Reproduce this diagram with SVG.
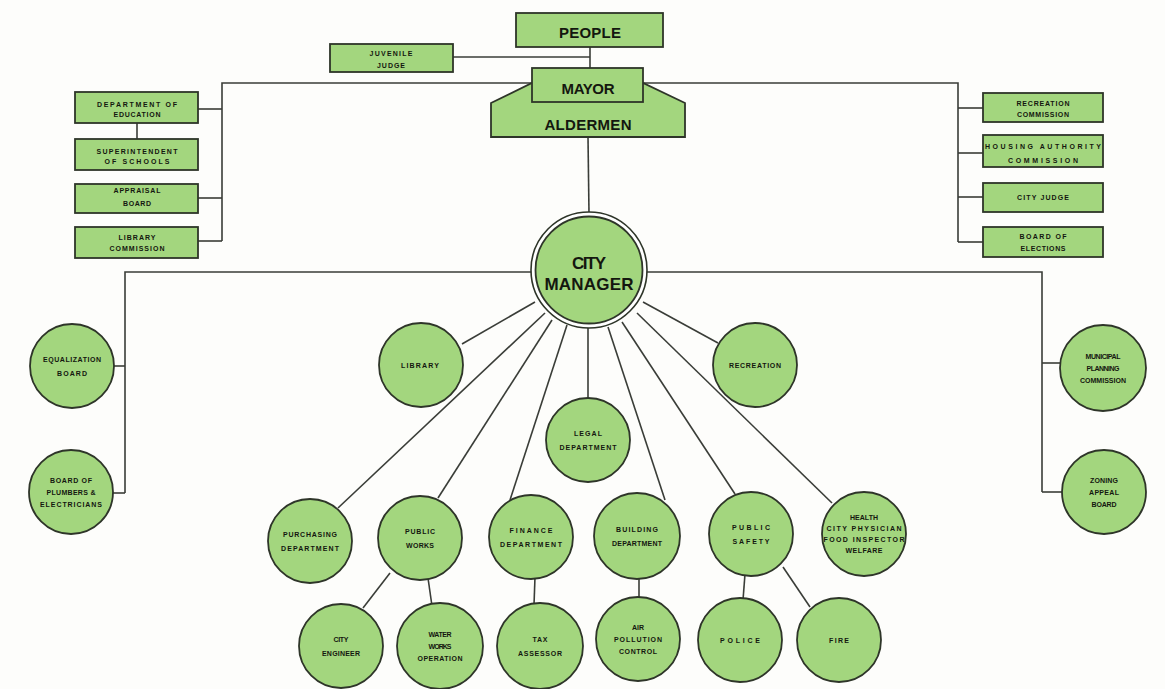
<svg xmlns="http://www.w3.org/2000/svg" width="1165" height="689" viewBox="0 0 1165 689">
<style>
.n{fill:#a3d67e;stroke:#2e3529;stroke-width:1.8}
.w{fill:#ffffff;stroke:#2e3529;stroke-width:1.6}
.ln{stroke:#3a3d38;stroke-width:1.6;fill:none}
text{font-family:"Liberation Sans",Arial,sans-serif;font-weight:bold;fill:#14170f;text-anchor:middle}
.b{font-size:15px}
.m{font-size:17px}
.s{font-size:7px}
</style>
<rect width="1165" height="689" fill="#fdfdfb"/>
<g id="connectors">
<line class="ln" x1="590" y1="47" x2="590" y2="68"/>
<line class="ln" x1="453" y1="57" x2="590" y2="57"/>
<polyline class="ln" points="222,241 222,83 958,83 958,242"/>
<line class="ln" x1="198" y1="109" x2="222" y2="109"/>
<line class="ln" x1="198" y1="198" x2="222" y2="198"/>
<line class="ln" x1="198" y1="241" x2="222" y2="241"/>
<line class="ln" x1="137" y1="123" x2="137" y2="139"/>
<line class="ln" x1="958" y1="108" x2="983" y2="108"/>
<line class="ln" x1="958" y1="153" x2="983" y2="153"/>
<line class="ln" x1="958" y1="197" x2="983" y2="197"/>
<line class="ln" x1="958" y1="242" x2="983" y2="242"/>
<line class="ln" x1="588" y1="137" x2="589" y2="214"/>
<polyline class="ln" points="125,493 125,272 1042,272 1042,492"/>
<line class="ln" x1="112" y1="366" x2="125" y2="366"/>
<line class="ln" x1="111" y1="493" x2="125" y2="493"/>
<line class="ln" x1="1042" y1="363" x2="1062" y2="363"/>
<line class="ln" x1="1042" y1="492" x2="1064" y2="492"/>
<line class="ln" x1="535" y1="302" x2="462" y2="344"/>
<line class="ln" x1="545" y1="313" x2="338" y2="508"/>
<line class="ln" x1="552" y1="320" x2="438" y2="498"/>
<line class="ln" x1="567" y1="325" x2="510" y2="500"/>
<line class="ln" x1="588" y1="328" x2="588" y2="400"/>
<line class="ln" x1="608" y1="327" x2="665" y2="500"/>
<line class="ln" x1="622" y1="322" x2="735" y2="494"/>
<line class="ln" x1="637" y1="313" x2="832" y2="503"/>
<line class="ln" x1="643" y1="302" x2="718" y2="343"/>
<line class="ln" x1="390" y1="573" x2="363" y2="608"/>
<line class="ln" x1="428" y1="578" x2="432" y2="606"/>
<line class="ln" x1="535" y1="577" x2="534" y2="605"/>
<line class="ln" x1="639" y1="577" x2="639" y2="599"/>
<line class="ln" x1="745" y1="574" x2="743" y2="600"/>
<line class="ln" x1="783" y1="567" x2="810" y2="607"/>
</g>
<g id="people"><rect class="n" x="516" y="13" width="147" height="34"/><text class="b" x="590" y="38" textLength="62">PEOPLE</text></g>
<g id="juvenile-judge"><rect class="n" x="330" y="44" width="123" height="28"/><text class="s" x="391" y="55.5" textLength="43">JUVENILE</text><text class="s" x="391" y="67.5" textLength="28">JUDGE</text></g>
<g id="aldermen"><polygon class="n" points="532,83 643,83 685,103 685,137 491,137 491,103"/><text class="b" x="588" y="130" textLength="87">ALDERMEN</text></g>
<g id="mayor"><rect class="n" x="532" y="68" width="111" height="34"/><text class="b" x="588" y="94" textLength="53">MAYOR</text></g>
<g id="dept-education"><rect class="n" x="75" y="92" width="123" height="31"/><text class="s" x="137" y="106.5" textLength="80">DEPARTMENT OF</text><text class="s" x="137" y="116.5" textLength="47">EDUCATION</text></g>
<g id="superintendent"><rect class="n" x="75" y="139" width="123" height="31"/><text class="s" x="137" y="153.5" textLength="81">SUPERINTENDENT</text><text class="s" x="137" y="163.5" textLength="65">OF SCHOOLS</text></g>
<g id="appraisal-board"><rect class="n" x="75" y="184" width="123" height="29"/><text class="s" x="137" y="192.5" textLength="47">APPRAISAL</text><text class="s" x="137" y="205.5" textLength="28">BOARD</text></g>
<g id="library-commission"><rect class="n" x="75" y="227" width="123" height="31"/><text class="s" x="137" y="239.5" textLength="37">LIBRARY</text><text class="s" x="137" y="250.5" textLength="55">COMMISSION</text></g>
<g id="recreation-commission"><rect class="n" x="983" y="93" width="120" height="29"/><text class="s" x="1043" y="105.5" textLength="53">RECREATION</text><text class="s" x="1043" y="116.5" textLength="52">COMMISSION</text></g>
<g id="housing-authority"><rect class="n" x="983" y="135" width="120" height="32"/><text class="s" x="1043" y="148.5" textLength="116">HOUSING AUTHORITY</text><text class="s" x="1043" y="162.5" textLength="70">COMMISSION</text></g>
<g id="city-judge"><rect class="n" x="983" y="183" width="120" height="29"/><text class="s" x="1043" y="199.5" textLength="52">CITY JUDGE</text></g>
<g id="board-elections"><rect class="n" x="983" y="227" width="120" height="30"/><text class="s" x="1043" y="238.5" textLength="47">BOARD OF</text><text class="s" x="1043" y="250.5" textLength="45">ELECTIONS</text></g>
<g id="city-manager"><circle class="w" cx="589" cy="270" r="58"/><circle class="n" cx="589" cy="270" r="53.5"/><text class="m" x="589" y="269" textLength="34">CITY</text><text class="m" x="589" y="290" textLength="89">MANAGER</text></g>
<g id="equalization-board"><circle class="n" cx="72" cy="366" r="42"/><text class="s" x="72" y="361.5" textLength="58">EQUALIZATION</text><text class="s" x="72" y="375.5" textLength="30">BOARD</text></g>
<g id="board-plumbers"><circle class="n" cx="71" cy="492" r="42"/><text class="s" x="71" y="482.5" textLength="42">BOARD OF</text><text class="s" x="71" y="494.5" textLength="49">PLUMBERS &amp;</text><text class="s" x="71" y="506.5" textLength="62">ELECTRICIANS</text></g>
<g id="municipal-planning"><circle class="n" cx="1103" cy="368" r="43"/><text class="s" x="1103" y="358.5" textLength="35">MUNICIPAL</text><text class="s" x="1103" y="370.5" textLength="33">PLANNING</text><text class="s" x="1103" y="382.5" textLength="46">COMMISSION</text></g>
<g id="zoning-appeal"><circle class="n" cx="1104" cy="492" r="42"/><text class="s" x="1104" y="482.5" textLength="28">ZONING</text><text class="s" x="1104" y="494.5" textLength="30">APPEAL</text><text class="s" x="1104" y="506.5" textLength="25">BOARD</text></g>
<g id="library"><circle class="n" cx="421" cy="365" r="42"/><text class="s" x="420" y="367.5" textLength="38">LIBRARY</text></g>
<g id="recreation"><circle class="n" cx="755" cy="365" r="42"/><text class="s" x="755" y="367.5" textLength="52">RECREATION</text></g>
<g id="legal"><circle class="n" cx="588" cy="440" r="42"/><text class="s" x="588" y="435.5" textLength="28">LEGAL</text><text class="s" x="588" y="449.5" textLength="57">DEPARTMENT</text></g>
<g id="purchasing"><circle class="n" cx="310" cy="541" r="42"/><text class="s" x="310" y="536.5" textLength="54">PURCHASING</text><text class="s" x="310" y="550.5" textLength="58">DEPARTMENT</text></g>
<g id="public-works"><circle class="n" cx="420" cy="538" r="42"/><text class="s" x="420" y="533.5" textLength="30">PUBLIC</text><text class="s" x="420" y="547.5" textLength="28">WORKS</text></g>
<g id="finance"><circle class="n" cx="531" cy="537" r="42"/><text class="s" x="531" y="532.5" textLength="43">FINANCE</text><text class="s" x="531" y="546.5" textLength="62">DEPARTMENT</text></g>
<g id="building"><circle class="n" cx="637" cy="536" r="43"/><text class="s" x="637" y="531.5" textLength="42">BUILDING</text><text class="s" x="637" y="545.5" textLength="50">DEPARTMENT</text></g>
<g id="public-safety"><circle class="n" cx="751" cy="534" r="42"/><text class="s" x="751" y="529.5" textLength="38">PUBLIC</text><text class="s" x="751" y="543.5" textLength="37">SAFETY</text></g>
<g id="health"><circle class="n" cx="864" cy="534" r="42"/><text class="s" x="864" y="520" textLength="28">HEALTH</text><text class="s" x="864" y="531" textLength="75">CITY PHYSICIAN</text><text class="s" x="864" y="542" textLength="81">FOOD INSPECTOR</text><text class="s" x="864" y="553" textLength="37">WELFARE</text></g>
<g id="city-engineer"><circle class="n" cx="341" cy="646" r="42"/><text class="s" x="341" y="641.5" textLength="15">CITY</text><text class="s" x="341" y="655.5" textLength="38">ENGINEER</text></g>
<g id="water-works"><circle class="n" cx="440" cy="646" r="43"/><text class="s" x="440" y="636.5" textLength="23">WATER</text><text class="s" x="440" y="648.5" textLength="23">WORKS</text><text class="s" x="440" y="660.5" textLength="45">OPERATION</text></g>
<g id="tax-assessor"><circle class="n" cx="540" cy="646" r="43"/><text class="s" x="540" y="641.5" textLength="15">TAX</text><text class="s" x="540" y="655.5" textLength="44">ASSESSOR</text></g>
<g id="air-pollution"><circle class="n" cx="638" cy="639" r="42"/><text class="s" x="638" y="629.5" textLength="12">AIR</text><text class="s" x="638" y="641.5" textLength="48">POLLUTION</text><text class="s" x="638" y="653.5" textLength="38">CONTROL</text></g>
<g id="police"><circle class="n" cx="740" cy="640" r="42"/><text class="s" x="740" y="642.5" textLength="40">POLICE</text></g>
<g id="fire"><circle class="n" cx="839" cy="640" r="42"/><text class="s" x="839" y="642.5" textLength="20">FIRE</text></g>
</svg>
